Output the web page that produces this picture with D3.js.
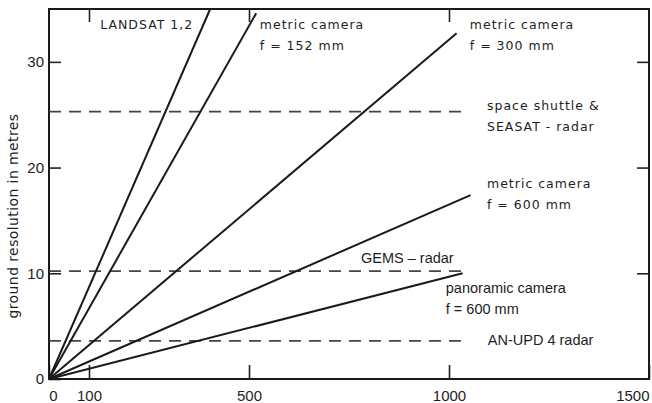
<!DOCTYPE html>
<html lang="en">
<head>
    <meta charset="utf-8">
    <title>ground resolution vs. distance</title>
    <style type="text/css">
        body { margin: 0; background: #fff; }
        .ann { font-family: "DejaVu Sans", sans-serif; font-size: 12.5px; letter-spacing: 1px; fill: #1e1e1e; }
        .ann2 { font-family: "Liberation Sans", Arial, sans-serif; font-size: 14.5px; fill: #1e1e1e; }
        .axis text { font-family: "Liberation Sans", Arial, sans-serif; font-size: 15px; fill: #1e1e1e; }
        .axis path { display: none; }
        .axis line { stroke: #222; stroke-width: 1.6; }
    </style>
    <script src="https://cdn.jsdelivr.net/npm/d3@7"></script>
</head>
<body>
<div id="chart"></div>
<script type="text/javascript">
    // sensors drawn as straight lines from the origin (end point)
    var sensors = ["LANDSAT 1,2", "metric camera f = 152 mm", "metric camera f = 300 mm",
                   "metric camera f = 600 mm", "panoramic camera f = 600 mm"];
    var sensorEndX = [403, 518, 1019, 1054, 1034];
    var sensorEndY = [35, 34.6, 32.7, 17.4, 10.0];

    // radars: constant resolution, dashed
    var radars = ["space shuttle & SEASAT - radar", "GEMS - radar", "AN-UPD 4 radar"];
    var radarY = [25.3, 10.2, 3.6];
    var radarEndX = [1034, 1034, 1034];

    var xTicks = [0, 100, 500, 1000, 1500],
        xTopTicks = [100, 500, 1000],
        yTicks = [0, 10, 20, 30],
        yRightTicks = [10, 20, 30];

    // label text lines, anchored in data units
    var labelLines = [
        ["LANDSAT 1,2"],
        ["metric camera", "f = 152 mm"],
        ["metric camera", "f = 300 mm"],
        ["space shuttle &", "SEASAT - radar"],
        ["metric camera", "f = 600 mm"],
        ["GEMS \u2013 radar"],
        ["panoramic camera", "f = 600 mm"],
        ["AN-UPD 4 radar"]
    ];
    var labelX = [128, 527, 1052, 1095, 1095, 780, 992, 1097];
    var labelY = [33.1, 33.1, 33.1, 25.4, 18.1, 11.0, 8.1, 3.2];
    var labelStyle = ["ann", "ann", "ann", "ann", "ann", "ann2", "ann2", "ann2"];

    var W = 652, H = 403,
        m = {left: 49, right: 3, top: 9, bottom: 24};

    var x = d3.scaleLinear().domain([0, 1500]).range([m.left, W - m.right]);
    var y = d3.scaleLinear().domain([0, 35]).range([H - m.bottom, m.top]);

    var svg = d3.select("#chart").append("svg")
        .attr("width", W)
        .attr("height", H);

    // axes (ticks pointing inwards)
    var gx = svg.append("g").attr("class", "axis")
        .attr("transform", "translate(0," + y(0) + ")")
        .call(d3.axisBottom(x).tickValues(xTicks).tickSize(-14).tickPadding(11).tickFormat(d3.format("d")));
    gx.selectAll(".tick text").filter(function (d) { return d === 1500; })
        .attr("text-anchor", "end");
    gx.selectAll(".tick").filter(function (d) { return d === 0; }).select("text").attr("dx", 4);

    svg.append("g").attr("class", "axis")
        .attr("transform", "translate(0," + y(35) + ")")
        .call(d3.axisTop(x).tickValues(xTopTicks).tickSize(-13).tickFormat(""));

    svg.append("g").attr("class", "axis")
        .attr("transform", "translate(" + x(0) + ",0)")
        .call(d3.axisLeft(y).tickValues(yTicks).tickSize(-12).tickPadding(5));

    svg.append("g").attr("class", "axis")
        .attr("transform", "translate(" + x(1500) + ",0)")
        .call(d3.axisRight(y).tickValues(yRightTicks).tickSize(-12).tickFormat(""));

    // frame
    svg.append("rect")
        .attr("x", x(0)).attr("y", y(35))
        .attr("width", x(1500) - x(0)).attr("height", y(0) - y(35))
        .attr("fill", "none").attr("stroke", "#1a1a1a").attr("stroke-width", 2);

    // dashed radar lines
    svg.append("g").selectAll("line").data(radars)
        .enter().append("line")
        .attr("x1", x(0))
        .attr("x2", function (d, i) { return x(radarEndX[i]) })
        .attr("y1", function (d, i) { return y(radarY[i]) })
        .attr("y2", function (d, i) { return y(radarY[i]) })
        .attr("stroke", "#444")
        .attr("stroke-width", 1.7)
        .attr("stroke-dasharray", "12,8");

    // sensor lines
    svg.append("g").selectAll("line").data(sensors)
        .enter().append("line")
        .attr("x1", x(0)).attr("y1", y(0))
        .attr("x2", function (d, i) { return x(sensorEndX[i]) })
        .attr("y2", function (d, i) { return y(sensorEndY[i]) })
        .attr("stroke", "#1a1a1a")
        .attr("stroke-width", 2);

    // labels
    var lab = svg.append("g").selectAll("text").data(labelLines)
        .enter().append("text")
        .attr("class", function (d, i) { return labelStyle[i] })
        .attr("x", function (d, i) { return x(labelX[i]) })
        .attr("y", function (d, i) { return y(labelY[i]) });
    lab.selectAll("tspan").data(function (d) { return d })
        .enter().append("tspan")
        .attr("x", function () { return d3.select(this.parentNode).attr("x") })
        .attr("dy", function (d, j) { return j === 0 ? 0 : 21 })
        .text(function (d) { return d });

    // y axis title
    svg.append("text")
        .attr("transform", "translate(18," + 216 + ") rotate(-90)")
        .attr("text-anchor", "middle")
        .style("font-family", "'DejaVu Sans', sans-serif")
        .style("font-size", "14px")
        .style("letter-spacing", "0.4px")
        .style("fill", "#1e1e1e")
        .text("ground resolution in metres");
</script>
</body>
</html>
